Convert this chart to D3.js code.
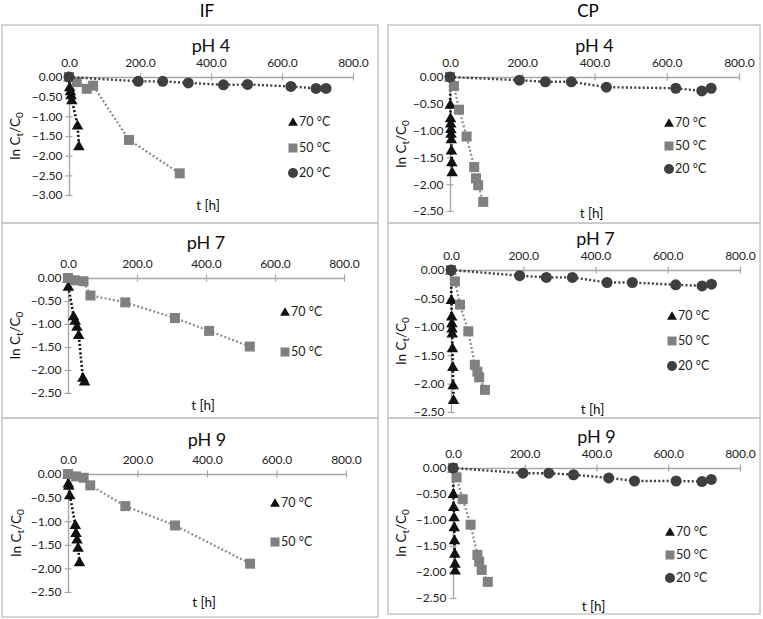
<!DOCTYPE html>
<html>
<head>
<meta charset="utf-8">
<script src="https://cdn.jsdelivr.net/npm/d3@7/dist/d3.min.js"></script>
<style>
  html, body { margin: 0; padding: 0; background: #fff; }
  svg { display: block; font-family: Lato, "Open Sans", sans-serif; }
</style>
</head>
<body>
<svg id="chart" width="763" height="619"></svg>
<script>
// ---------- DATA ----------
const columnTitles = ["IF", "CP"];
const panelTitles = ["pH 4", "pH 7", "pH 9"];
const seriesNames = ["70 °C", "50 °C", "20 °C"];
const xTickValues = [0, 200, 400, 600, 800];
const yTicksIF4 = [0, -0.5, -1, -1.5, -2, -2.5, -3];
const yTicks25 = [0, -0.5, -1, -1.5, -2, -2.5];

// IF pH 4
const IF4_t70 = [0, 2, 4, 6, 8, 24, 28];
const IF4_y70 = [0, -0.25, -0.35, -0.45, -0.58, -1.22, -1.75];
const IF4_t50 = [0, 22, 50, 68, 169, 312];
const IF4_y50 = [0, -0.13, -0.3, -0.22, -1.6, -2.45];
const IF4_t20 = [0, 195, 264, 336, 435, 503, 625, 696, 724];
const IF4_y20 = [0, -0.11, -0.11, -0.15, -0.2, -0.19, -0.24, -0.29, -0.29];
// IF pH 7
const IF7_t70 = [0, 1, 16, 21, 26, 31, 43, 48];
const IF7_y70 = [0, -0.18, -0.82, -0.92, -1.05, -1.23, -2.16, -2.24];
const IF7_t50 = [0, 21, 45, 65, 166, 310, 409, 527];
const IF7_y50 = [0, -0.05, -0.07, -0.38, -0.53, -0.87, -1.15, -1.49];
// IF pH 9
const IF9_t70 = [0, 1, 2, 5, 21, 23, 26, 29, 33];
const IF9_y70 = [0, -0.19, -0.24, -0.44, -1.07, -1.24, -1.38, -1.55, -1.86];
const IF9_t50 = [0, 23, 45, 64, 165, 308, 524];
const IF9_y50 = [0, -0.05, -0.08, -0.24, -0.68, -1.09, -1.9];
// CP pH 4
const CP4_t70 = [0, 1, 1.5, 2, 2.5, 3, 3.5, 4, 5, 6];
const CP4_y70 = [0, -0.51, -0.76, -0.86, -0.96, -1.05, -1.15, -1.36, -1.58, -1.77];
const CP4_t50 = [0, 11, 25, 46, 67, 72, 78, 92];
const CP4_y50 = [0, -0.17, -0.61, -1.11, -1.68, -1.89, -2.02, -2.33];
const CP4_t20 = [0, 192, 264, 336, 433, 625, 697, 723];
const CP4_y20 = [0, -0.06, -0.09, -0.09, -0.19, -0.21, -0.26, -0.21];
// CP pH 7
const CP7_t70 = [0, 1, 2, 2.5, 3, 3.5, 4, 5, 6, 7];
const CP7_y70 = [0, -0.52, -0.81, -0.93, -1.02, -1.11, -1.37, -1.7, -2.02, -2.28];
const CP7_t50 = [0, 11, 25, 48, 66, 73, 78, 94];
const CP7_y50 = [0, -0.2, -0.61, -1.08, -1.67, -1.79, -1.89, -2.11];
const CP7_t20 = [0, 190, 264, 336, 432, 502, 622, 695, 721];
const CP7_y20 = [0, -0.1, -0.13, -0.13, -0.22, -0.22, -0.26, -0.28, -0.25];
// CP pH 9
const CP9_t70 = [0, 1, 2, 3, 3.5, 4, 5, 5.5, 6];
const CP9_y70 = [0, -0.49, -0.74, -0.94, -1.13, -1.38, -1.64, -1.83, -1.96];
const CP9_t50 = [0, 10, 27, 49, 68, 73, 80, 97];
const CP9_y50 = [0, -0.18, -0.6, -1.09, -1.67, -1.8, -1.96, -2.19];
const CP9_t20 = [0, 195, 267, 336, 434, 506, 622, 694, 720];
const CP9_y20 = [0, -0.1, -0.1, -0.13, -0.19, -0.25, -0.25, -0.26, -0.22];

// ---------- LAYOUT ----------
const styles = [
  {shape: "tri", fill: "#111111", line: "#111111", lw: 2.6},
  {shape: "sq",  fill: "#808080", line: "#8a8a8a", lw: 2.2},
  {shape: "circ", fill: "#3f3f3f", line: "#3f3f3f", lw: 2.4}
];

const panels = [
  {col: 0, title: panelTitles[0], box: [2, 25, 378, 223], px: [69, 353], py: [77, 195], yMin: -3, yTicks: yTicksIF4,
   titleY: 52, axLabelX: 15, tLabelY: 210, legX: 293, legY: [122, 148, 173],
   series: [[IF4_t70, IF4_y70], [IF4_t50, IF4_y50], [IF4_t20, IF4_y20]]},
  {col: 0, title: panelTitles[1], box: [2, 223, 378, 418], px: [68, 344], py: [278, 393], yMin: -2.5, yTicks: yTicks25,
   titleY: 249, axLabelX: 15, tLabelY: 410, legX: 285, legY: [312, 352],
   series: [[IF7_t70, IF7_y70], [IF7_t50, IF7_y50]]},
  {col: 0, title: panelTitles[2], box: [2, 418, 378, 617], px: [68, 346], py: [474, 592], yMin: -2.5, yTicks: yTicks25,
   titleY: 446, axLabelX: 16, tLabelY: 607, legX: 275, legY: [503, 542],
   series: [[IF9_t70, IF9_y70], [IF9_t50, IF9_y50]]},
  {col: 1, title: panelTitles[0], box: [388, 25, 760, 223], px: [450, 739], py: [77, 211], yMin: -2.5, yTicks: yTicks25,
   titleY: 52, axLabelX: 401, tLabelY: 218, legX: 669, legY: [123, 146, 169],
   series: [[CP4_t70, CP4_y70], [CP4_t50, CP4_y50], [CP4_t20, CP4_y20]]},
  {col: 1, title: panelTitles[1], box: [388, 223, 760, 418], px: [451, 740], py: [270, 412], yMin: -2.5, yTicks: yTicks25,
   titleY: 245, axLabelX: 401, tLabelY: 414, legX: 672, legY: [316, 341, 366],
   series: [[CP7_t70, CP7_y70], [CP7_t50, CP7_y50], [CP7_t20, CP7_y20]]},
  {col: 1, title: panelTitles[2], box: [388, 418, 760, 614], px: [453, 740], py: [468, 598], yMin: -2.5, yTicks: yTicks25,
   titleY: 443, axLabelX: 401, tLabelY: 611, legX: 670, legY: [532, 555, 578],
   series: [[CP9_t70, CP9_y70], [CP9_t50, CP9_y50], [CP9_t20, CP9_y20]]}
];

const svg = d3.select("#chart");

// column headers
svg.append("text").attr("x", 207).attr("y", 17).attr("text-anchor", "middle")
  .attr("font-size", 17).attr("fill", "#000").text(columnTitles[0]);
svg.append("text").attr("x", 588).attr("y", 17).attr("text-anchor", "middle")
  .attr("font-size", 17).attr("fill", "#000").text(columnTitles[1]);

function drawMarker(g, shape, cx, cy, s, fill) {
  if (shape === "tri") {
    const h = s * 0.95, w = s * 0.55;
    g.append("path")
      .attr("d", `M${cx},${cy - h * 0.55}L${cx + w},${cy + h * 0.45}L${cx - w},${cy + h * 0.45}Z`)
      .attr("fill", fill);
  } else if (shape === "sq") {
    g.append("rect").attr("x", cx - s / 2).attr("y", cy - s / 2).attr("width", s).attr("height", s).attr("fill", fill);
  } else {
    g.append("circle").attr("cx", cx).attr("cy", cy).attr("r", s / 2).attr("fill", fill);
  }
}

panels.forEach(p => {
  const g = svg.append("g");
  // panel box
  g.append("rect").attr("x", p.box[0]).attr("y", p.box[1])
    .attr("width", p.box[2] - p.box[0]).attr("height", p.box[3] - p.box[1])
    .attr("fill", "none").attr("stroke", "#c6c6c6").attr("stroke-width", 1.5);

  const x = d3.scaleLinear().domain([0, 800]).range(p.px);
  const y = d3.scaleLinear().domain([0, p.yMin]).range(p.py);

  // title
  g.append("text").attr("x", (p.px[0] + p.px[1]) / 2).attr("y", p.titleY)
    .attr("text-anchor", "middle").attr("font-size", 18).attr("fill", "#111").text(p.title);

  // x axis at y=0
  const xAxisG = g.append("g").attr("transform", `translate(0,${y(0)})`);
  xAxisG.call(d3.axisTop(x).tickValues(xTickValues).tickFormat(d3.format(".1f"))
    .tickSizeInner(3.5).tickSizeOuter(0).tickPadding(6.5));
  const xAxisG2 = g.append("g").attr("transform", `translate(0,${y(0)})`);
  xAxisG2.call(d3.axisBottom(x).tickValues(xTickValues).tickFormat("")
    .tickSizeInner(3.5).tickSizeOuter(0));
  xAxisG2.select(".domain").remove();

  // y axis at x=0
  const yAxisG = g.append("g").attr("transform", `translate(${x(0)},0)`);
  yAxisG.call(d3.axisLeft(y).tickValues(p.yTicks).tickFormat(d3.format(".2f"))
    .tickSizeInner(3.5).tickSizeOuter(0).tickPadding(3));
  const yAxisG2 = g.append("g").attr("transform", `translate(${x(0)},0)`);
  yAxisG2.call(d3.axisRight(y).tickValues(p.yTicks).tickFormat("")
    .tickSizeInner(3.5).tickSizeOuter(0));
  yAxisG2.select(".domain").remove();

  [xAxisG, xAxisG2, yAxisG, yAxisG2].forEach(a => {
    a.selectAll(".domain").attr("stroke", "#a6a6a6").attr("stroke-width", 1.4);
    a.selectAll(".tick line").attr("stroke", "#a6a6a6").attr("stroke-width", 1.2);
    a.selectAll(".tick text").attr("fill", "#222").attr("font-size", 12)
      .attr("font-family", "Lato, 'Open Sans', sans-serif");
  });

  // y-axis label
  const lbl = g.append("text")
    .attr("transform", `translate(${p.axLabelX},${(p.py[0] + p.py[1]) / 2}) rotate(-90)`)
    .attr("text-anchor", "middle").attr("font-size", 13.5).attr("fill", "#111")
    .attr("dy", "0.35em");
  lbl.append("tspan").text("ln C");
  lbl.append("tspan").attr("font-size", 10).attr("dy", 3).text("t");
  lbl.append("tspan").attr("dy", -3).text("/C");
  lbl.append("tspan").attr("font-size", 10).attr("dy", 3).text("0");

  // t label
  g.append("text").attr("x", (p.px[0] + p.px[1]) / 2 - 3).attr("y", p.tLabelY)
    .attr("text-anchor", "middle").attr("font-size", 13.5).attr("fill", "#111").text("t [h]");

  // series
  p.series.forEach((s, i) => {
    const st = styles[i];
    const pts = s[0].map((t, k) => [t, s[1][k]]);
    const line = d3.line().x(d => x(d[0])).y(d => y(d[1]));
    g.append("path").attr("d", line(pts)).attr("fill", "none")
      .attr("stroke", st.line).attr("stroke-width", st.lw)
      .attr("stroke-dasharray", "2,2.2");
    const mg = g.append("g");
    const size = st.shape === "tri" ? 10.5 : (st.shape === "sq" ? 10 : 11);
    pts.forEach(d => drawMarker(mg, st.shape, x(d[0]), y(d[1]), size, st.fill));

    // legend
    const ly = p.legY[i];
    drawMarker(g, st.shape, p.legX, ly, st.shape === "circ" ? 10 : 9, st.fill);
    g.append("text").attr("x", p.legX + 6).attr("y", ly).attr("dy", "0.35em")
      .attr("font-size", 12.5).attr("fill", "#222").text(seriesNames[i]);
  });
});
</script>
</body>
</html>
